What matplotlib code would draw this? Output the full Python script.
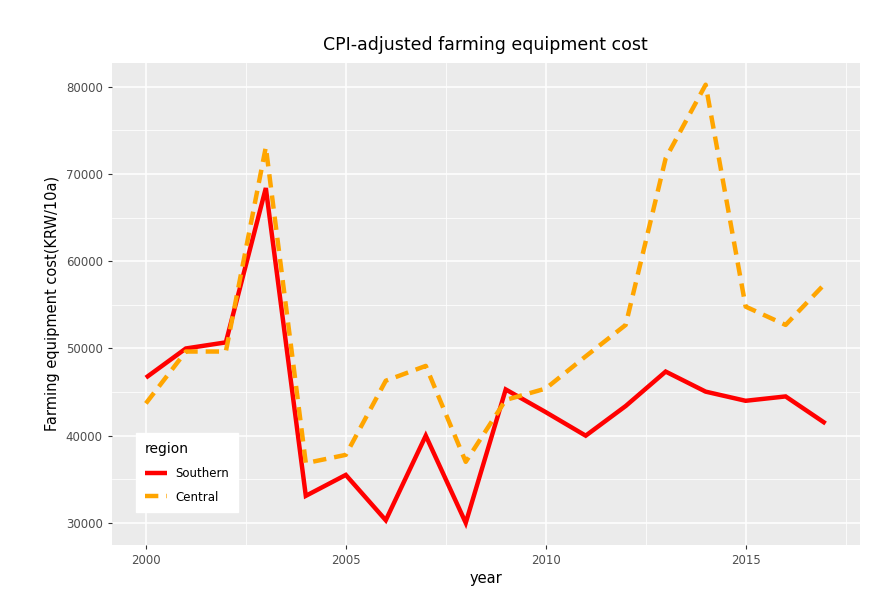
import numpy as np
import matplotlib.pyplot as plt

# CPI-adjusted farming equipment cost by region (KRW/10a)
years = list(range(2000, 2018))
southern = [46650, 50000, 50700, 68400, 33100, 35500, 30300, 40000, 30000,
            45300, 42700, 40000, 43400, 47350, 45050, 44000, 44500, 41400]
central = [43700, 49650, 49650, 73100, 36850, 37800, 46300, 48000, 37000,
           44100, 45400, 49100, 52700, 71800, 80250, 54800, 52700, 57500]

x_ticks = [2000, 2005, 2010, 2015]
y_ticks = [30000, 40000, 50000, 60000, 70000, 80000]


def main():
    fig = plt.figure(figsize=(8.88, 5.98), dpi=100, facecolor="white")
    ax = fig.add_axes([0.126, 0.089, 0.842, 0.806])
    ax.set_facecolor("#EBEBEB")

    # ggplot-style grid: major + minor, white
    ax.set_xticks(x_ticks)
    ax.set_xticks([2002.5, 2007.5, 2012.5, 2017.5], minor=True)
    ax.set_yticks(y_ticks)
    ax.set_yticks([35000, 45000, 55000, 65000, 75000], minor=True)
    ax.grid(which="major", color="white", lw=1.1)
    ax.grid(which="minor", color="white", lw=0.55)
    ax.set_axisbelow(True)
    for s in ax.spines.values():
        s.set_visible(False)

    ax.plot(years, southern, color="red", lw=3.2, solid_capstyle="butt",
            solid_joinstyle="miter", label="Southern")
    ax.plot(years, central, color="orange", lw=3.2, dashes=(3.0, 1.8),
            dash_capstyle="butt", label="Central")

    ax.set_xlim(1999.15, 2017.85)
    ax.set_ylim(27488, 82762)

    ax.tick_params(axis="both", which="major", length=3, color="#333333",
                   labelsize=8.5, labelcolor="#4D4D4D", width=0.8)
    ax.tick_params(axis="both", which="minor", length=0)
    ax.set_yticklabels([str(v) for v in y_ticks])

    ax.set_xlabel("year", fontsize=10.5, labelpad=3)
    ax.set_ylabel("Farming equipment cost(KRW/10a)", fontsize=10.5, labelpad=4)
    ax.set_title("CPI-adjusted farming equipment cost", fontsize=12.5, pad=9)

    leg = ax.legend(title="region", loc="lower left", bbox_to_anchor=(0.024, 0.055),
                    frameon=True, fancybox=False, edgecolor="white", facecolor="white",
                    framealpha=1, fontsize=8.5, title_fontsize=10,
                    handlelength=1.9, borderpad=0.75, labelspacing=0.9,
                    handletextpad=0.7)
    leg._legend_box.align = "left"

    fig.savefig("out.png", dpi=100, facecolor="white")


if __name__ == "__main__":
    main()
